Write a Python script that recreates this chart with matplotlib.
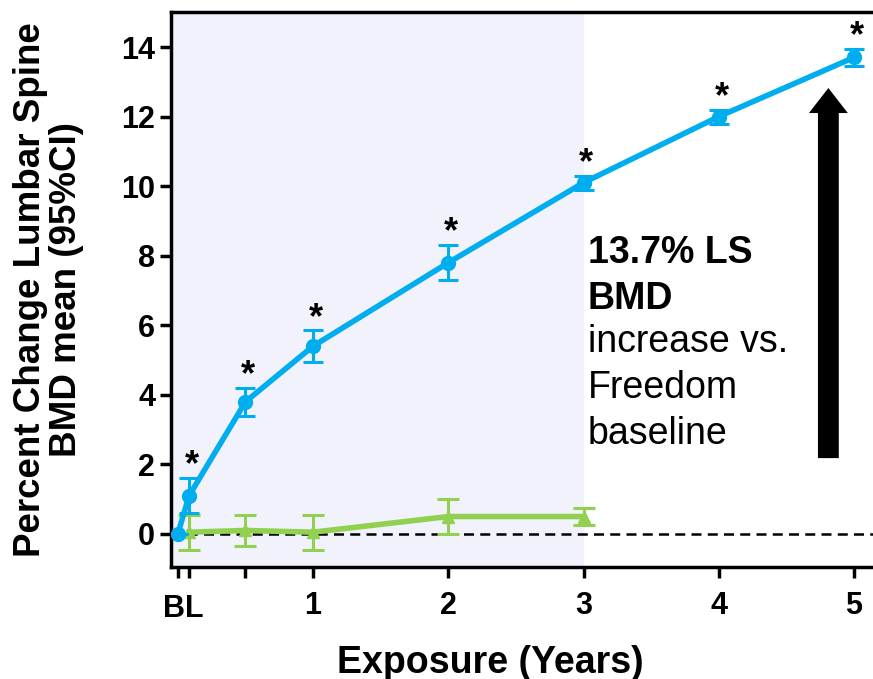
import numpy as np
import matplotlib.pyplot as plt
from matplotlib.transforms import blended_transform_factory

plt.rcParams['font.family'] = ['Liberation Sans', 'DejaVu Sans']

# Data
years_ls = [0, 0.083, 0.5, 1, 2, 3, 4, 5]
bmd_ls = [0, 1.1, 3.8, 5.4, 7.8, 10.1, 12.0, 13.7]
err_ls = [0, 0.5, 0.4, 0.45, 0.5, 0.2, 0.2, 0.25]

years_ctrl = [0.083, 0.5, 1, 2, 3]
bmd_ctrl = [0.05, 0.1, 0.05, 0.5, 0.5]
err_ctrl = [0.5, 0.45, 0.5, 0.5, 0.25]

tick_pos = [0, 0.083, 0.5, 1, 2, 3, 4, 5]
tick_lab = ['', '', '', '1', '2', '3', '4', '5']

blue = '#00AEEF'
green = '#92D050'

fig = plt.figure(figsize=(8.73, 6.79), dpi=100)
ax = fig.add_axes([0.196, 0.165, 0.804, 0.817])

ax.axvspan(-0.05, 3, color='#F2F2FC', zorder=0, lw=0)
ax.axhline(0, color='black', ls=(0, (4, 2.5)), lw=1.8, zorder=1)

ax.errorbar(years_ctrl, bmd_ctrl, yerr=err_ctrl, color=green, lw=4, marker='^',
            markersize=8, capsize=8, capthick=2.2, elinewidth=2.2, zorder=2)
ax.errorbar(years_ls, bmd_ls, yerr=err_ls, color=blue, lw=4, marker='o',
            markersize=10, capsize=7, capthick=2.2, elinewidth=2.2, zorder=3)

for x, y, e in zip(years_ls[1:], bmd_ls[1:], err_ls[1:]):
    ax.text(x + 0.02, y + e - 0.15, '*', ha='center', va='bottom',
            fontsize=26, fontweight='bold')

# arrow
ax.annotate('', xy=(4.81, 12.9), xytext=(4.81, 2.1),
            arrowprops=dict(arrowstyle='simple,head_length=0.9,head_width=1.4,tail_width=0.75',
                            color='black', lw=0, mutation_scale=20))

ax.text(3.03, 8.6, '13.7% LS\nBMD', fontsize=27, fontweight='bold',
        va='top', ha='left', linespacing=1.36)
ax.text(3.03, 6.05, 'increase vs.\nFreedom\nbaseline', fontsize=27,
        va='top', ha='left', linespacing=1.36)

ax.set_xlim(-0.05, 5.14)
ax.set_ylim(-0.95, 15)
ax.set_yticks(range(0, 15, 2))
ax.set_xticks(tick_pos)
ax.set_xticklabels(tick_lab)
ax.tick_params(axis='both', width=2.5, length=8, labelsize=22)
ax.tick_params(axis='x', pad=9)
for lab in ax.get_xticklabels() + ax.get_yticklabels():
    lab.set_fontweight('bold')
trans = blended_transform_factory(ax.transData, ax.transAxes)
ax.text(0.042, -0.048, 'BL', transform=trans, ha='center', va='top',
        fontsize=22, fontweight='bold')

for s in ['left', 'bottom', 'top']:
    ax.spines[s].set_linewidth(2.5)
ax.spines['right'].set_visible(False)

ax.set_xlabel('Exposure (Years)', fontsize=27, fontweight='bold')
ax.xaxis.set_label_coords(0.455, -0.14)
ax.set_ylabel('Percent Change Lumbar Spine\nBMD mean (95%CI)', fontsize=26.5,
              fontweight='bold', linespacing=1.05)
ax.yaxis.set_label_coords(-0.124, 0.5)

fig.savefig('out.png', dpi=100)
